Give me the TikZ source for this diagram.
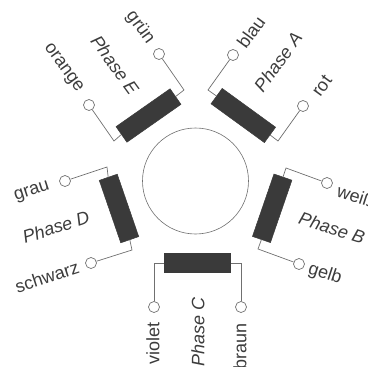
\documentclass[tikz,border=0pt]{standalone}
\usepackage{fontspec}
\setmainfont{Liberation Sans}
\definecolor{inkc}{HTML}{3A3A3A}
\definecolor{wirec}{HTML}{707070}
\definecolor{textc}{HTML}{3C3C3C}
\tikzset{
  coil/.style={draw=inkc,fill=inkc,minimum width=66pt,minimum height=19pt,inner sep=0pt,line width=0.5pt},
  term/.style={circle,draw=wirec,fill=white,minimum size=11pt,inner sep=0pt,line width=0.7pt},
  wire/.style={draw=wirec,line width=0.7pt},
  lab/.style={text=textc,font=\fontsize{18}{20}\selectfont,inner sep=0pt},
  phlab/.style={lab,font=\fontsize{18}{20}\selectfont\itshape},
  rotor/.style={circle,draw=wirec,line width=0.6pt,minimum size=106pt,inner sep=0pt}
}
\begin{document}
\begin{tikzpicture}[x=1pt,y=-1pt]
\useasboundingbox (0,0) rectangle (368,367);
\clip (0,0) rectangle (368,367);
\node[rotor] (rotor) at (195.5,181) {};
% coils
\node[coil,rotate=35] (coilE) at (148.5,115.5) {};
\node[coil,rotate=-36] (coilA) at (243.3,115.5) {};
\node[coil,rotate=71] (coilB) at (272.2,208.3) {};
\node[coil] (coilC) at (197.5,263) {};
\node[coil,rotate=-71] (coilD) at (119,208.5) {};
% terminals
\node[term] (gruen) at (159,54) {};
\node[term] (orange) at (89,105) {};
\node[term] (blau) at (233,55) {};
\node[term] (rot) at (303,106) {};
\node[term] (weiss) at (327,183) {};
\node[term] (gelb) at (299,264) {};
\node[term] (violet) at (154,307) {};
\node[term] (braun) at (241,307) {};
\node[term] (grau) at (65,181) {};
\node[term] (schwarz) at (91,263) {};
% wire corners
\coordinate (kgruen) at (184,90);
\coordinate (korange) at (114,141);
\coordinate (kblau) at (208,90);
\coordinate (krot) at (278,141);
\coordinate (kweiss) at (286,168);
\coordinate (kgelb) at (258,249);
\coordinate (kviolet) at (154,263);
\coordinate (kbraun) at (241,263);
\coordinate (kgrau) at (107,167);
\coordinate (kschwarz) at (132,250);
% wires
\draw[wire] (coilE.east) -- (kgruen) -- (gruen);
\draw[wire] (coilE.west) -- (korange) -- (orange);
\draw[wire] (coilA.west) -- (kblau) -- (blau);
\draw[wire] (coilA.east) -- (krot) -- (rot);
\draw[wire] (coilB.east) -- (kweiss) -- (weiss);
\draw[wire] (coilB.west) -- (kgelb) -- (gelb);
\draw[wire] (coilC.west) -- (kviolet) -- (violet);
\draw[wire] (coilC.east) -- (kbraun) -- (braun);
\draw[wire] (coilD.west) -- (kgrau) -- (grau);
\draw[wire] (coilD.east) -- (kschwarz) -- (schwarz);
% labels
\node[lab,rotate=-54] (tgruen) at (140,28) {grün};
\node[phlab,rotate=-54] (tE) at (115,65) {Phase E};
\node[lab,rotate=-54] (torange) at (63,68) {orange};
\node[lab,rotate=54] (tblau) at (251,32) {blau};
\node[phlab,rotate=54] (tA) at (278,62) {Phase A};
\node[lab,rotate=54] (trot) at (322,86) {rot};
\node[lab,rotate=-18] (tweiss) at (356,196) {weiß};
\node[phlab,rotate=-18] (tB) at (332,228) {Phase B};
\node[lab,rotate=-18] (tgelb) at (325,274) {gelb};
\node[lab,rotate=90] (tviolet) at (153,343) {violet};
\node[phlab,rotate=90] (tC) at (198,332) {Phase C};
\node[lab,rotate=90] (tbraun) at (240,346) {braun};
\node[lab,rotate=18] (tgrau) at (32,192) {grau};
\node[phlab,rotate=18] (tD) at (56,227) {Phase D};
\node[lab,rotate=18] (tschwarz) at (47,277) {schwarz};
\end{tikzpicture}
\end{document}
